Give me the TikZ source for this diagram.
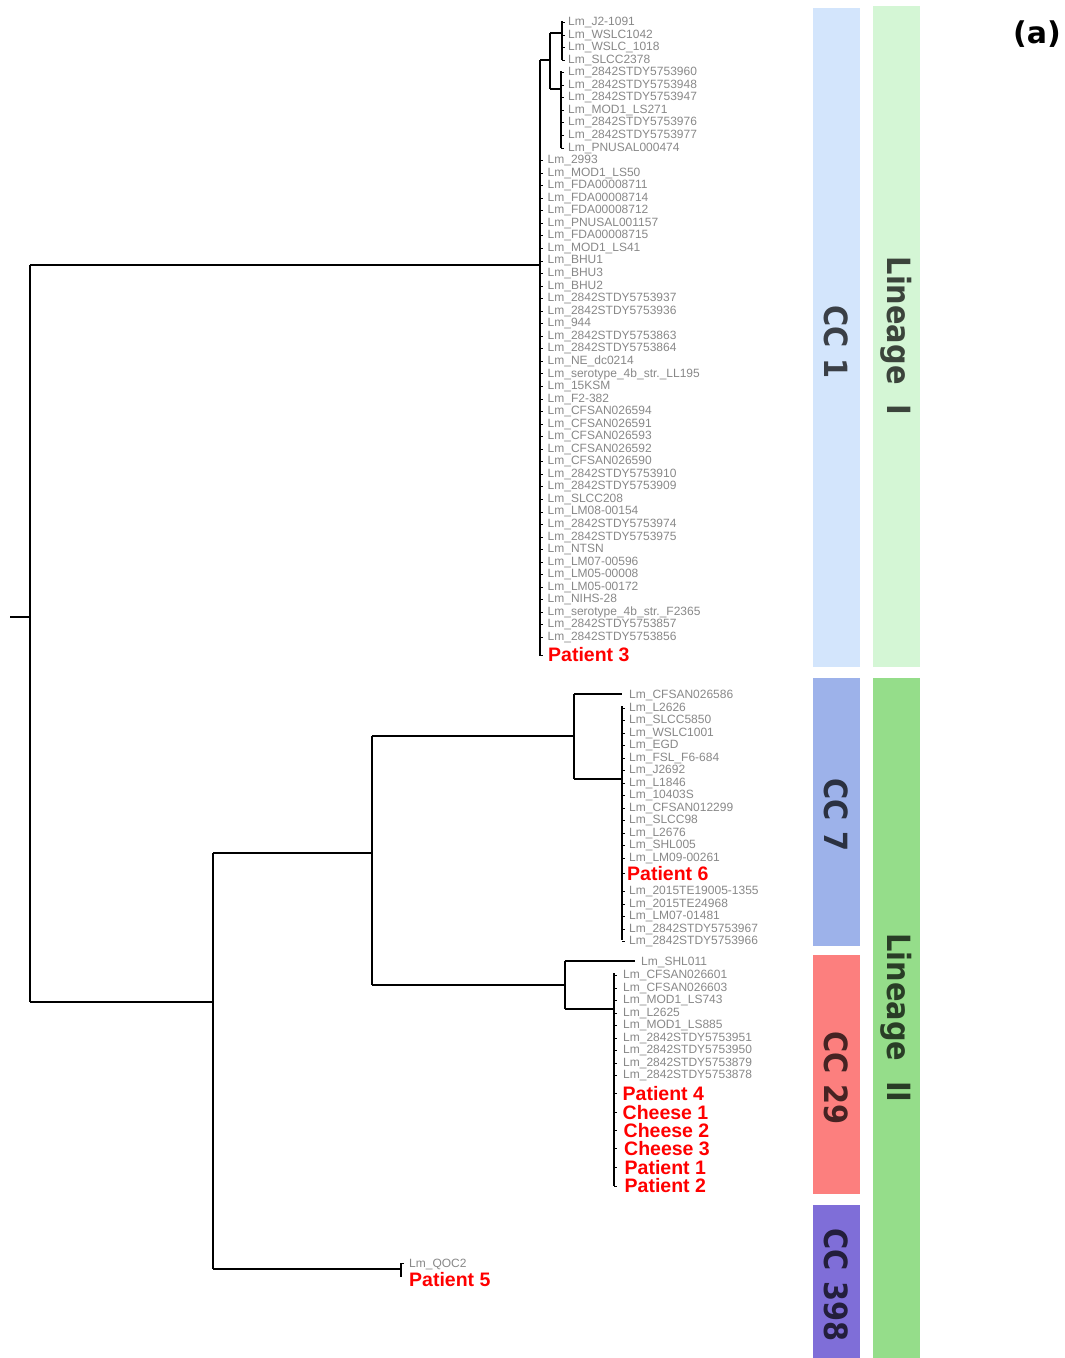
\documentclass[tikz,border=0pt]{standalone}
\usepackage{fontspec}
\setmainfont{DejaVu Sans}
\newfontfamily\leaffont{Liberation Sans}
\definecolor{leafgray}{HTML}{888888}
\definecolor{cconeblue}{HTML}{D3E5FC}
\definecolor{linonegreen}{HTML}{D4F6D5}
\definecolor{ccsevenblue}{HTML}{9DB2EA}
\definecolor{cctwentyninered}{HTML}{FC7F7E}
\definecolor{ccthreenineeightpurple}{HTML}{7F6ED8}
\definecolor{lintwogreen}{HTML}{95DD8A}
\begin{document}
\begin{tikzpicture}[x=1pt,y=-1pt,
  branch/.style={line width=1.1pt,black},
  tickline/.style={line width=0.9pt,black},
  leaf/.style={anchor=west,inner sep=0pt,yshift=-1.5pt,text=leafgray,font=\leaffont\fontsize{12}{12}\selectfont},
  hit/.style={anchor=west,inner sep=0pt,yshift=-1pt,text=red,font=\leaffont\bfseries\fontsize{19.5}{20}\selectfont},
  bandlab/.style={rotate=-90,inner sep=0pt,text=black,text opacity=0.72,font=\bfseries\fontsize{32}{32}\selectfont}]
\useasboundingbox (0,0) rectangle (1065,1358);

% ---------- side bands ----------
\fill[cconeblue] (813,8) rectangle (860,667);
\fill[linonegreen] (873,6) rectangle (920,667);
\fill[ccsevenblue] (813,678) rectangle (860,946);
\fill[cctwentyninered] (813,955) rectangle (860,1194);
\fill[ccthreenineeightpurple] (813,1205) rectangle (860,1358);
\fill[lintwogreen] (873,678) rectangle (920,1358);
\node[bandlab] (labcc1) at (836,342) {\scalebox{0.9}[1]{CC 1}};
\node[bandlab] (lablinI) at (896,336) {\scalebox{0.9}[1]{Lineage\ \ I}};
\node[bandlab] (labcc7) at (836,815) {\scalebox{0.9}[1]{CC 7}};
\node[bandlab] (labcc29) at (836,1078) {\scalebox{0.9}[1]{CC 29}};
\node[bandlab] (labcc398) at (836,1285) {\scalebox{0.9}[1]{CC 398}};
\node[bandlab] (lablinII) at (896,1018) {\scalebox{0.9}[1]{Lineage\ \ II}};
\node[font=\bfseries\fontsize{30}{30}\selectfont,inner sep=0pt] (panel) at (1037,34) {(a)};

% ---------- internal node coordinates ----------
\coordinate (stub) at (10,617);
\coordinate (rootmid) at (30,617);
\coordinate (roottop) at (30,265);
\coordinate (rootbot) at (30,1002);
\coordinate (cc1h) at (540,265);
\coordinate (cc1top) at (540,60);
\coordinate (cc1bot) at (540,656);
\coordinate (s1a) at (550,60);
\coordinate (s1top) at (550,33);
\coordinate (s1bot) at (550,89);
\coordinate (s2a) at (562,33);
\coordinate (s2top) at (562,21);
\coordinate (s2bot) at (562,60);
\coordinate (s3a) at (561,89);
\coordinate (s3top) at (561,71);
\coordinate (s3bot) at (561,148);
\coordinate (l2a) at (213,1002);
\coordinate (l2top) at (213,853);
\coordinate (l2bot) at (213,1269);
\coordinate (m1a) at (372,853);
\coordinate (m1top) at (372,736);
\coordinate (m1bot) at (372,985);
\coordinate (c7a) at (574,736);
\coordinate (c7top) at (574,694);
\coordinate (c7bot) at (574,779);
\coordinate (c7b) at (622,779);
\coordinate (c7btop) at (622,706);
\coordinate (c7bbot) at (622,940);
\coordinate (c29a) at (565,985);
\coordinate (c29top) at (565,961);
\coordinate (c29bot) at (565,1009);
\coordinate (c29b) at (614,1009);
\coordinate (c29btop) at (614,973);
\coordinate (c29bbot) at (614,1186);
\coordinate (c398a) at (401,1269);
\coordinate (c398top) at (401,1263);
\coordinate (c398bot) at (401,1277);

% ---------- branches ----------
\draw[branch] (stub) -- (rootmid);
\draw[branch] (roottop) -- (rootbot);
\draw[branch] (roottop) -- (cc1h);
\draw[branch] (cc1top) -- (cc1bot);
\draw[branch] (cc1top) -- (s1a);
\draw[branch] (s1top) -- (s1bot);
\draw[branch] (s1top) -- (s2a);
\draw[branch] (s2top) -- (s2bot);
\draw[branch] (s1bot) -- (s3a);
\draw[branch] (s3top) -- (s3bot);
\draw[branch] (rootbot) -- (l2a);
\draw[branch] (l2top) -- (l2bot);
\draw[branch] (l2top) -- (m1a);
\draw[branch] (m1top) -- (m1bot);
\draw[branch] (m1top) -- (c7a);
\draw[branch] (c7top) -- (c7bot);
\draw[branch] (c7bot) -- (c7b);
\draw[branch] (c7btop) -- (c7bbot);
\draw[branch] (m1bot) -- (c29a);
\draw[branch] (c29top) -- (c29bot);
\draw[branch] (c29bot) -- (c29b);
\draw[branch] (c29btop) -- (c29bbot);
\draw[branch] (l2bot) -- (c398a);
\draw[branch] (c398top) -- (c398bot);

% ---------- CC1 leaves ----------
\foreach \t [count=\i] in {Lm\_J2-1091,Lm\_WSLC1042,Lm\_WSLC\_1018,Lm\_SLCC2378}{
  \node[leaf] (a\i) at (568,{21+(\i-1)*12.55}) {\t};
  \draw[tickline] (a\i.west -| s2a) -- ++(3,0);
}
\foreach \t [count=\i from 5] in {Lm\_2842STDY5753960,Lm\_2842STDY5753948,Lm\_2842STDY5753947,Lm\_MOD1\_LS271,Lm\_2842STDY5753976,Lm\_2842STDY5753977,Lm\_PNUSAL000474}{
  \node[leaf] (a\i) at (568,{21+(\i-1)*12.55}) {\t};
  \draw[tickline] (a\i.west -| s3a) -- ++(3,0);
}
\foreach \t [count=\i from 12] in {Lm\_2993,Lm\_MOD1\_LS50,Lm\_FDA00008711,Lm\_FDA00008714,Lm\_FDA00008712,Lm\_PNUSAL001157,Lm\_FDA00008715,Lm\_MOD1\_LS41,Lm\_BHU1,Lm\_BHU3,Lm\_BHU2,Lm\_2842STDY5753937,Lm\_2842STDY5753936,Lm\_944,Lm\_2842STDY5753863,Lm\_2842STDY5753864,Lm\_NE\_dc0214,Lm\_serotype\_4b\_str.\_LL195,Lm\_15KSM,Lm\_F2-382,Lm\_CFSAN026594,Lm\_CFSAN026591,Lm\_CFSAN026593,Lm\_CFSAN026592,Lm\_CFSAN026590,Lm\_2842STDY5753910,Lm\_2842STDY5753909,Lm\_SLCC208,Lm\_LM08-00154,Lm\_2842STDY5753974,Lm\_2842STDY5753975,Lm\_NTSN,Lm\_LM07-00596,Lm\_LM05-00008,Lm\_LM05-00172,Lm\_NIHS-28,Lm\_serotype\_4b\_str.\_F2365,Lm\_2842STDY5753857,Lm\_2842STDY5753856}{
  \node[leaf] (a\i) at (547.5,{21+(\i-1)*12.55}) {\t};
  \draw[tickline] (a\i.west -| cc1top) -- ++(3,0);
}
\node[hit] (p3) at (548,654) {Patient 3};
\draw[tickline] (p3.west -| cc1top) -- ++(3,0);

% ---------- CC7 leaves ----------
\node[leaf] (b0) at (629,693.5) {Lm\_CFSAN026586};
\draw[branch,shorten >=7pt] (c7top) -- (c7top -| b0.west);
\foreach \t [count=\i] in {Lm\_L2626,Lm\_SLCC5850,Lm\_WSLC1001,Lm\_EGD,Lm\_FSL\_F6-684,Lm\_J2692,Lm\_L1846,Lm\_10403S,Lm\_CFSAN012299,Lm\_SLCC98,Lm\_L2676,Lm\_SHL005,Lm\_LM09-00261}{
  \node[leaf] (b\i) at (629,{706.5+(\i-1)*12.5}) {\t};
  \draw[tickline] (b\i.west -| c7b) -- ++(3,0);
}
\node[hit] (p6) at (627,872.5) {Patient 6};
\draw[tickline] (p6.west -| c7b) -- ++(3,0);
\foreach \t [count=\i from 14] in {Lm\_2015TE19005-1355,Lm\_2015TE24968,Lm\_LM07-01481,Lm\_2842STDY5753967,Lm\_2842STDY5753966}{
  \node[leaf] (b\i) at (629,{890+(\i-14)*12.5}) {\t};
  \draw[tickline] (b\i.west -| c7b) -- ++(3,0);
}

% ---------- CC29 leaves ----------
\node[leaf] (d0) at (641,961) {Lm\_SHL011};
\draw[branch,shorten >=6pt] (c29top) -- (c29top -| d0.west);
\foreach \t [count=\i] in {Lm\_CFSAN026601,Lm\_CFSAN026603,Lm\_MOD1\_LS743,Lm\_L2625,Lm\_MOD1\_LS885,Lm\_2842STDY5753951,Lm\_2842STDY5753950,Lm\_2842STDY5753879,Lm\_2842STDY5753878}{
  \node[leaf] (d\i) at (623,{974+(\i-1)*12.5}) {\t};
  \draw[tickline] (d\i.west -| c29b) -- ++(3,0);
}
\node[hit] (p4) at (622.5,1092.5) {Patient 4};
\node[hit] (ch1) at (622.5,1111.5) {Cheese 1};
\node[hit] (ch2) at (623.5,1129.5) {Cheese 2};
\node[hit] (ch3) at (624,1147.5) {Cheese 3};
\node[hit] (p1) at (624.5,1166.5) {Patient 1};
\node[hit] (p2) at (624.5,1185) {Patient 2};
\foreach \n in {p4,ch1,ch2,ch3,p1,p2}{
  \draw[tickline] (\n.west -| c29b) -- ++(3,0);
}

% ---------- CC398 leaves ----------
\node[leaf] (e1) at (409,1263) {Lm\_QOC2};
\node[hit] (p5) at (409,1278.5) {Patient 5};
\draw[tickline] (c398top) -- ++(3,0);
\end{tikzpicture}
\end{document}
